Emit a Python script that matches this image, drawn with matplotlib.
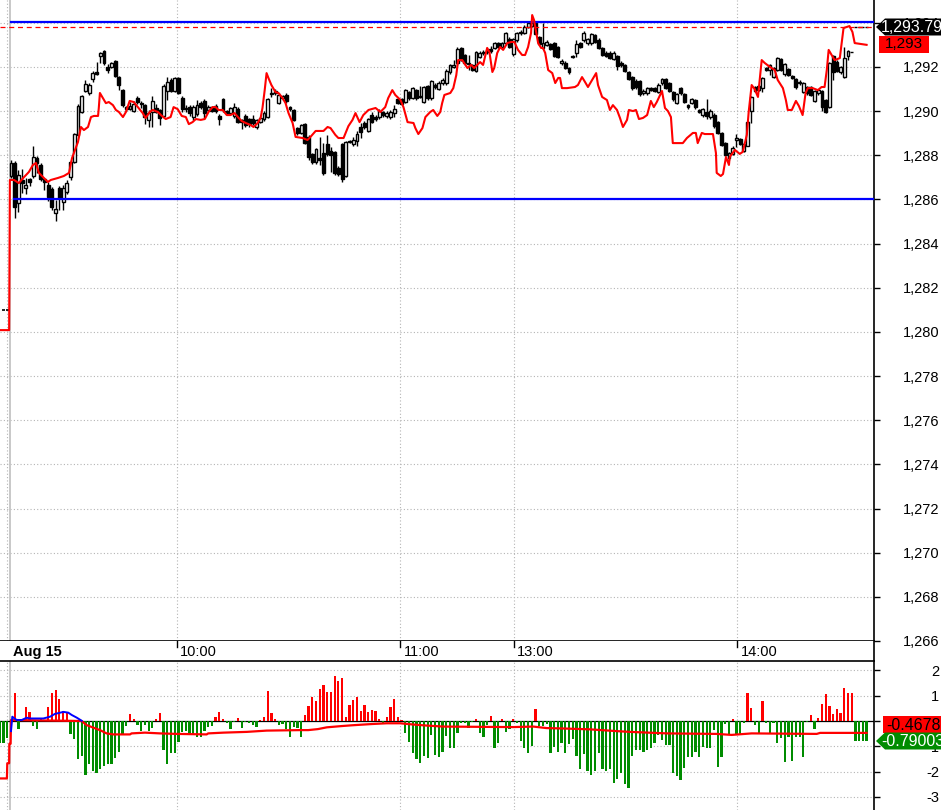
import numpy as np
import matplotlib
matplotlib.use("Agg")
import matplotlib.pyplot as plt
from matplotlib.patches import Polygon, Rectangle

plt.rcParams['font.family'] = ['Liberation Sans', 'DejaVu Sans']

# ---- price candles (1-min bars, Aug 15) ----
opens = [
    1287.06, 1287.65, 1285.84, 1286.88, 1286.51, 1286.92, 1287.06, 1287.87, 1287.56, 1286.92,
    1286.65, 1286.47, 1285.38, 1286.51, 1285.88, 1286.33, 1287.01, 1287.69, 1288.92, 1289.96,
    1290.91, 1290.82, 1291.45, 1291.77, 1292.49, 1292.72, 1292.00, 1292.00, 1292.27, 1291.54,
    1290.95, 1290.18, 1290.09, 1290.00, 1290.59, 1290.36, 1290.27, 1289.60, 1289.96, 1290.14,
    1290.05, 1289.78, 1290.91, 1291.41, 1290.91, 1291.50, 1290.59, 1290.09, 1290.18, 1289.73,
    1289.87, 1290.36, 1290.45, 1290.05, 1290.18, 1290.23, 1289.78, 1290.54, 1290.00, 1289.91,
    1289.78, 1290.10, 1289.51, 1289.78, 1289.64, 1289.64, 1289.28, 1289.51, 1289.64, 1289.73,
    1290.77, 1290.82, 1290.36, 1290.59, 1290.73, 1290.18, 1290.05, 1289.23, 1289.00, 1289.41,
    1288.83, 1288.06, 1287.69, 1287.87, 1288.10, 1288.51, 1288.19, 1288.15, 1287.42, 1288.51,
    1287.06, 1288.60, 1288.51, 1288.65, 1289.28, 1289.46, 1289.10, 1289.82, 1289.73, 1289.73,
    1289.96, 1289.78, 1289.73, 1289.91, 1290.54, 1290.54, 1290.41, 1290.86, 1290.59, 1290.95,
    1290.68, 1290.41, 1291.14, 1290.59, 1291.18, 1291.00, 1291.27, 1291.27, 1291.77, 1292.00,
    1292.18, 1292.86, 1292.54, 1292.18, 1292.09, 1291.82, 1292.45, 1292.68, 1292.77, 1292.81,
    1292.86, 1293.08, 1292.90, 1293.08, 1293.26, 1292.58, 1293.22, 1293.54, 1293.54, 1293.81,
    1293.85, 1293.99, 1293.35, 1292.86, 1293.00, 1293.04, 1293.08, 1292.90, 1292.18, 1292.18,
    1291.95, 1292.49, 1292.63, 1293.08, 1293.22, 1293.08, 1293.08, 1293.45, 1293.22, 1292.86,
    1292.63, 1292.63, 1292.36, 1292.49, 1292.18, 1292.09, 1291.77, 1291.54, 1291.36, 1291.36,
    1290.82, 1290.82, 1291.05, 1291.05, 1290.86, 1291.27, 1291.45, 1291.27, 1290.86, 1290.36,
    1291.05, 1290.77, 1290.27, 1290.36, 1290.50, 1290.05, 1289.82, 1289.96, 1289.73, 1289.82,
    1289.51, 1289.00, 1288.55, 1287.87, 1288.06, 1288.69, 1288.74, 1288.19, 1288.42, 1290.00,
    1291.09, 1290.95, 1291.05, 1291.95, 1291.86, 1291.54, 1291.86, 1292.36, 1291.68, 1291.90,
    1291.59, 1291.45, 1291.32, 1290.86, 1291.09, 1291.09, 1290.45, 1290.82, 1290.91, 1290.50,
    1290.18, 1292.49, 1292.22, 1291.77, 1291.54, 1292.49, 1292.68,
    1293.79, 1293.79, 1293.79, 1293.79]
highs = [
    1287.78, 1287.74, 1287.33, 1287.38, 1286.97, 1286.97, 1288.42, 1287.96, 1287.65, 1286.97,
    1286.79, 1286.56, 1285.97, 1286.60, 1286.65, 1286.88, 1287.78, 1289.00, 1290.30, 1290.75,
    1291.41, 1291.25, 1291.80, 1292.22, 1292.68, 1292.77, 1292.13, 1292.22, 1292.30, 1291.60,
    1291.00, 1290.25, 1290.41, 1290.45, 1290.70, 1290.45, 1290.32, 1290.05, 1290.68, 1290.32,
    1290.10, 1291.22, 1291.54, 1291.50, 1291.56, 1291.56, 1290.68, 1290.27, 1290.27, 1290.27,
    1290.50, 1290.45, 1290.54, 1290.27, 1290.25, 1290.30, 1289.85, 1290.60, 1290.05, 1290.20,
    1290.36, 1290.20, 1289.65, 1289.85, 1289.70, 1289.80, 1289.65, 1289.75, 1290.00, 1290.60,
    1291.05, 1291.00, 1290.82, 1290.75, 1290.82, 1290.25, 1290.10, 1289.30, 1289.41, 1289.45,
    1288.90, 1288.10, 1288.35, 1288.83, 1288.55, 1288.92, 1288.37, 1288.20, 1287.50, 1288.55,
    1288.65, 1288.70, 1288.83, 1289.10, 1289.46, 1289.55, 1289.70, 1289.96, 1289.80, 1290.10,
    1290.00, 1290.00, 1290.05, 1290.27, 1290.60, 1290.60, 1291.00, 1290.91, 1291.10, 1291.00,
    1291.14, 1291.14, 1291.20, 1291.41, 1291.25, 1291.35, 1291.50, 1291.90, 1292.15, 1292.31,
    1292.90, 1292.90, 1292.60, 1292.54, 1292.15, 1292.72, 1292.70, 1292.75, 1292.85, 1292.95,
    1293.15, 1293.15, 1293.15, 1293.60, 1293.35, 1293.30, 1293.60, 1293.65, 1293.90, 1294.05,
    1294.05, 1294.05, 1293.40, 1293.99, 1293.20, 1293.10, 1293.15, 1292.95, 1292.35, 1292.25,
    1292.00, 1292.55, 1293.22, 1293.15, 1293.63, 1293.30, 1293.55, 1293.50, 1293.30, 1292.90,
    1292.70, 1292.70, 1292.70, 1292.55, 1292.25, 1292.15, 1291.82, 1291.60, 1291.45, 1291.41,
    1291.00, 1291.10, 1291.10, 1291.10, 1291.25, 1291.50, 1291.50, 1291.32, 1290.91, 1290.82,
    1291.10, 1290.82, 1290.32, 1290.60, 1290.55, 1290.10, 1290.15, 1290.54, 1290.10, 1289.90,
    1289.55, 1289.05, 1288.60, 1288.15, 1288.40, 1288.96, 1288.80, 1288.55, 1289.55, 1290.70,
    1291.15, 1291.20, 1291.55, 1292.00, 1292.15, 1292.00, 1292.45, 1292.40, 1292.20, 1291.95,
    1291.65, 1291.50, 1291.40, 1291.32, 1291.15, 1291.15, 1290.95, 1291.00, 1290.95, 1290.55,
    1292.22, 1292.55, 1292.30, 1292.05, 1292.90, 1292.77, 1292.68,
    1293.79, 1293.79, 1293.79, 1293.79]
lows = [
    1286.97, 1285.16, 1285.43, 1286.29, 1286.24, 1286.60, 1286.97, 1287.20, 1286.83, 1286.42,
    1285.93, 1285.52, 1285.02, 1285.52, 1285.52, 1286.24, 1286.88, 1287.65, 1288.90, 1289.90,
    1290.85, 1290.75, 1291.32, 1291.63, 1292.18, 1292.10, 1291.72, 1291.95, 1291.55, 1290.95,
    1290.20, 1290.00, 1290.05, 1289.95, 1290.30, 1290.14, 1289.41, 1289.28, 1289.28, 1289.91,
    1289.37, 1289.69, 1290.50, 1290.86, 1290.86, 1290.78, 1289.96, 1289.96, 1289.78, 1289.60,
    1289.78, 1290.10, 1289.69, 1290.00, 1289.96, 1289.92, 1289.37, 1289.96, 1289.82, 1289.82,
    1289.69, 1289.45, 1289.20, 1289.30, 1289.28, 1289.37, 1289.20, 1289.45, 1289.55, 1289.70,
    1290.64, 1290.75, 1290.30, 1290.50, 1290.36, 1290.00, 1289.55, 1288.90, 1288.95, 1288.50,
    1287.78, 1287.60, 1287.60, 1287.56, 1287.11, 1287.96, 1287.24, 1287.10, 1287.06, 1286.79,
    1287.00, 1288.55, 1288.42, 1288.42, 1288.78, 1289.20, 1289.05, 1289.45, 1289.55, 1289.65,
    1289.75, 1289.70, 1289.65, 1289.73, 1290.30, 1290.27, 1290.36, 1290.50, 1290.55, 1290.50,
    1290.59, 1290.36, 1290.50, 1290.50, 1291.00, 1290.95, 1291.20, 1291.20, 1291.70, 1291.95,
    1292.10, 1292.25, 1292.10, 1291.86, 1291.80, 1291.77, 1292.40, 1292.55, 1292.60, 1292.63,
    1292.80, 1292.85, 1292.85, 1293.00, 1292.85, 1292.50, 1293.15, 1293.45, 1293.50, 1293.75,
    1293.80, 1293.45, 1293.00, 1292.80, 1292.95, 1292.75, 1292.45, 1292.40, 1292.10, 1291.90,
    1291.70, 1292.40, 1292.45, 1292.85, 1293.15, 1293.00, 1293.00, 1293.10, 1292.80, 1292.50,
    1292.45, 1292.35, 1292.30, 1291.86, 1292.00, 1291.75, 1291.40, 1290.95, 1291.00, 1290.70,
    1290.75, 1290.75, 1290.90, 1290.85, 1290.80, 1291.20, 1291.00, 1290.85, 1290.45, 1290.30,
    1290.75, 1290.36, 1290.10, 1290.30, 1290.10, 1289.90, 1289.75, 1289.64, 1289.65, 1289.25,
    1288.95, 1288.40, 1287.95, 1287.80, 1288.00, 1288.37, 1288.45, 1288.15, 1288.40, 1289.46,
    1290.85, 1290.90, 1290.86, 1291.80, 1291.63, 1291.50, 1291.80, 1291.80, 1291.60, 1291.59,
    1291.45, 1291.00, 1291.20, 1290.80, 1290.75, 1290.68, 1290.40, 1290.75, 1290.00, 1289.90,
    1290.14, 1291.41, 1291.75, 1291.70, 1291.50, 1292.31, 1292.68,
    1293.79, 1293.79, 1293.79, 1293.79]
closes = [
    1287.65, 1285.66, 1287.11, 1286.74, 1286.65, 1286.79, 1287.92, 1287.65, 1286.92, 1286.79,
    1286.11, 1285.66, 1285.56, 1286.06, 1286.51, 1286.74, 1287.69, 1288.96, 1290.23, 1290.68,
    1291.23, 1291.18, 1291.72, 1291.68, 1292.63, 1292.18, 1291.86, 1292.18, 1291.59, 1291.18,
    1290.27, 1290.09, 1290.23, 1290.32, 1290.41, 1290.32, 1289.73, 1289.91, 1290.45, 1289.96,
    1289.69, 1291.13, 1291.32, 1290.91, 1291.50, 1290.82, 1290.09, 1290.14, 1289.91, 1290.18,
    1290.27, 1290.18, 1289.91, 1290.18, 1290.00, 1290.00, 1289.64, 1290.05, 1289.91, 1290.14,
    1290.18, 1289.51, 1289.60, 1289.37, 1289.41, 1289.46, 1289.60, 1289.69, 1289.91, 1290.54,
    1290.82, 1290.91, 1290.73, 1290.68, 1290.45, 1290.09, 1289.60, 1289.00, 1289.37, 1288.55,
    1287.92, 1287.69, 1288.28, 1287.78, 1287.20, 1288.06, 1288.01, 1287.20, 1287.15, 1286.92,
    1288.60, 1288.65, 1288.69, 1288.96, 1289.05, 1289.28, 1289.64, 1289.51, 1289.64, 1290.00,
    1289.82, 1289.91, 1289.96, 1290.09, 1290.36, 1290.32, 1290.95, 1290.59, 1291.05, 1290.59,
    1290.64, 1291.09, 1290.59, 1291.36, 1291.09, 1291.27, 1291.41, 1291.82, 1292.09, 1292.09,
    1292.81, 1292.31, 1292.18, 1292.13, 1291.86, 1292.68, 1292.63, 1292.63, 1292.68, 1292.72,
    1293.08, 1292.90, 1293.08, 1293.54, 1292.90, 1293.26, 1293.54, 1293.58, 1293.81, 1293.99,
    1293.99, 1293.49, 1293.04, 1293.08, 1293.13, 1292.81, 1292.49, 1292.45, 1292.27, 1291.95,
    1291.77, 1292.45, 1293.04, 1292.90, 1293.54, 1293.26, 1293.49, 1293.13, 1292.86, 1292.54,
    1292.49, 1292.40, 1292.63, 1292.04, 1292.09, 1291.82, 1291.45, 1291.04, 1291.09, 1290.77,
    1290.91, 1291.05, 1290.95, 1290.91, 1291.18, 1291.45, 1291.05, 1290.91, 1290.54, 1290.77,
    1290.82, 1290.41, 1290.18, 1290.54, 1290.18, 1289.96, 1290.09, 1289.78, 1290.00, 1289.32,
    1289.00, 1288.46, 1288.01, 1288.10, 1288.33, 1288.78, 1288.51, 1288.51, 1289.51, 1290.64,
    1290.91, 1291.14, 1291.50, 1291.86, 1292.09, 1291.95, 1292.40, 1291.86, 1292.13, 1291.63,
    1291.50, 1291.09, 1291.27, 1291.27, 1290.82, 1290.73, 1290.91, 1290.95, 1290.18, 1289.96,
    1292.18, 1291.77, 1291.82, 1292.00, 1292.40, 1292.72, 1292.68,
    1293.79, 1293.79, 1293.79, 1293.79]

# previous session's last bars (left edge)
prev_idx = [-2, -1]
prev_close = [1280.99, 1280.99]

# ---- red comparison line (main panel), vertices (bar index, price) ----
red_x = [-3.0, -0.5, -0.3, 0.8, 2.1, 3.5, 4.8, 5.9, 6.7, 7.5, 8.6, 9.9, 10.7, 12.6, 14.2, 15.6,
         16.4, 17.2, 18.0, 18.8, 19.6, 20.7, 21.5, 22.3, 23.4, 23.6, 23.9, 24.7, 25.5, 26.3,
         27.4, 28.2, 29.0, 30.1, 30.9, 31.9, 33.0, 34.1, 35.4, 36.2, 37.3, 38.1, 39.5, 40.3,
         41.6, 42.9, 43.7, 44.8, 45.9, 47.0, 47.8, 48.8, 49.7, 51.0, 52.1, 53.1, 54.2, 55.0,
         55.8, 56.9, 58.0, 59.0, 60.1, 61.2, 62.0, 63.1, 64.4, 65.2, 66.3, 67.1, 67.6, 68.2,
         68.7, 69.2, 70.0, 71.1, 71.9, 73.0, 73.8, 74.6, 75.7, 76.5, 78.4, 79.7, 80.5, 81.9,
         84.0, 85.1, 85.9, 87.2, 88.0, 89.4, 90.7, 91.8, 92.6, 93.7, 94.7, 96.1, 98.0, 99.3,
         100.6, 101.4, 102.5, 103.3, 104.7, 105.5, 106.6, 108.2, 108.7, 109.5, 110.6, 111.4,
         112.7, 113.5, 114.6, 115.4, 115.9, 116.5, 118.1, 118.9, 119.7, 120.2, 121.3, 122.7,
         123.7, 124.5, 126.1, 126.9, 128.0, 128.6, 129.4, 129.9, 130.7, 131.5, 132.3, 133.4,
         134.5, 135.3, 136.3, 137.4, 138.2, 139.0, 139.8, 140.1, 140.6, 141.2, 141.7, 142.5,
         143.0, 143.6, 144.4, 145.5, 146.3, 147.1, 147.6, 148.1, 149.5, 151.6, 152.4, 153.5,
         154.3, 155.1, 156.2, 157.3, 157.8, 158.9, 160.2, 161.0, 161.8, 162.9, 163.7, 164.5,
         165.6, 166.1, 167.2, 168.0, 168.8, 169.9, 171.0, 172.0, 172.8, 173.6, 175.0, 175.8,
         176.6, 177.4, 177.9, 180.6, 181.7, 183.3, 184.1, 184.6, 185.7, 186.5, 188.7, 189.5,
         189.7, 190.8, 191.4, 192.2, 193.0, 193.2, 194.6, 195.9, 196.7, 197.8, 198.3, 199.1,
         199.9, 200.8, 201.8, 202.6, 204.0, 205.3, 206.1, 207.5, 208.3, 208.8, 209.9, 211.0,
         211.8, 212.8, 213.6, 214.2, 215.5, 216.9, 217.9, 218.7, 219.3, 219.8, 220.6, 221.4,
         222.8, 223.3, 223.8, 225.4, 226.2, 226.8, 230.0]
red_y = [1280.08, 1280.08, 1286.88, 1286.88, 1286.74, 1287.01, 1287.24, 1287.56, 1287.65, 1287.20,
         1287.01, 1286.79, 1286.88, 1286.97, 1287.06, 1287.20, 1287.87, 1288.24, 1288.60, 1289.28,
         1289.14, 1289.28, 1289.73, 1289.78, 1289.78, 1290.14, 1290.82, 1290.59, 1290.36, 1290.41,
         1290.27, 1290.05, 1289.96, 1289.73, 1289.96, 1290.46, 1290.41, 1290.18, 1289.91, 1289.69,
         1289.96, 1290.05, 1289.96, 1289.82, 1289.64, 1289.73, 1290.18, 1290.09, 1289.78, 1289.73,
         1289.41, 1289.50, 1289.64, 1289.60, 1289.64, 1289.96, 1290.18, 1290.18, 1290.05, 1290.05,
         1289.82, 1289.82, 1289.91, 1289.69, 1289.55, 1289.46, 1289.37, 1289.28, 1289.46, 1289.69,
         1290.14, 1290.95, 1291.72, 1291.50, 1291.18, 1290.86, 1290.82, 1290.59, 1290.36, 1289.91,
         1289.46, 1288.83, 1288.78, 1288.69, 1288.83, 1289.10, 1289.10, 1289.28, 1289.23, 1288.92,
         1288.78, 1288.78, 1289.32, 1289.60, 1289.91, 1289.50, 1289.82, 1290.05, 1290.14, 1289.96,
         1290.18, 1290.59, 1290.95, 1290.73, 1290.50, 1290.18, 1289.50, 1289.46, 1289.23, 1288.96,
         1289.23, 1289.73, 1289.96, 1290.05, 1289.78, 1289.96, 1290.36, 1290.73, 1290.82, 1291.04,
         1291.63, 1292.31, 1292.31, 1291.95, 1292.09, 1291.95, 1292.22, 1292.09, 1292.86, 1292.68,
         1291.77, 1291.95, 1292.63, 1292.90, 1292.77, 1293.08, 1293.13, 1293.13, 1292.77, 1292.54,
         1292.54, 1292.90, 1293.54, 1294.35, 1294.12, 1293.54, 1293.08, 1292.86, 1292.86, 1292.63,
         1291.86, 1291.72, 1291.27, 1291.50, 1291.50, 1291.04, 1291.04, 1291.09, 1291.18, 1291.54,
         1291.32, 1291.09, 1291.41, 1291.72, 1291.18, 1290.64, 1290.50, 1290.05, 1290.27, 1290.05,
         1289.69, 1289.28, 1289.60, 1290.05, 1290.00, 1290.05, 1289.64, 1289.69, 1289.82, 1290.46,
         1290.18, 1290.41, 1290.91, 1290.14, 1290.00, 1289.73, 1288.55, 1288.55, 1288.78, 1289.01,
         1289.01, 1288.55, 1289.01, 1288.96, 1288.96, 1288.10, 1287.20, 1287.06, 1287.15, 1287.92,
         1287.56, 1287.92, 1288.24, 1288.06, 1288.15, 1288.92, 1289.96, 1291.18, 1291.00, 1290.64,
         1292.31, 1292.18, 1292.00, 1291.86, 1291.41, 1291.04, 1290.50, 1290.05, 1290.05, 1290.46,
         1290.23, 1289.82, 1290.82, 1291.04, 1291.04, 1290.95, 1291.09, 1291.09, 1291.86, 1292.77,
         1292.54, 1292.31, 1292.40, 1293.08, 1293.76, 1293.85, 1293.58, 1293.08, 1293.00]

band_top = 1294.03
band_bottom = 1286.00
last_price = 1293.79

# ---- lower panel: histogram and signal ----
hist_prev = [-0.87, -0.87, -0.68]   # bars -3..-1
hist = [
    -0.35, 1.12, -0.33, 0.09, 0.54, 0.36, -0.20, -0.33, 0.09, 0.05,
    0.54, 1.12, 1.23, 0.87, 0.38, 0.30, -0.51, -0.72, -1.49, -1.37,
    -2.13, -1.70, -1.96, -2.04, -1.90, -1.78, -1.70, -1.70, -1.45, -1.21,
    -0.55, -0.20, 0.28, 0.08, -0.16, -0.38, -0.16, -0.38, -0.29, 0.07,
    0.32, -1.15, -1.70, -1.25, -1.28, -0.82, -0.42, -0.38, -0.55, -0.55,
    -0.65, -0.62, -0.40, -0.22, -0.20, 0.16, 0.36, 0.08, -0.09, -0.33,
    -0.02, 0.12, -0.29, -0.02, -0.07, -0.17, -0.22, 0.02, 0.14, 1.19,
    0.30, 0.08, -0.17, -0.13, -0.33, -0.62, -0.22, -0.26, -0.65, 0.24,
    0.59, 0.96, 0.79, 1.26, 1.42, 1.16, 1.16, 1.78, 1.58, 1.70,
    0.17, 0.63, 0.83, 0.95, 0.40, 0.63, 0.34, 0.45, 0.41, 0.08,
    -0.07, 0.16, 0.54, 0.87, 0.16, 0.05, -0.46, -0.82, -1.25, -1.52,
    -1.67, -1.38, -1.45, -0.55, -1.34, -1.41, -1.24, -0.58, -1.08, -1.08,
    -0.49, -0.09, -0.09, -0.29, -0.05, 0.08, -0.46, -0.62, -0.14, 0.18,
    -1.08, -0.88, 0.08, -0.43, -0.33, 0.08, -0.09, -0.78, -1.08, -1.28,
    -0.97, 0.47, -0.20, -0.20, -0.12, -1.25, -1.01, -1.24, -0.88, -1.28,
    -0.92, -0.72, -1.37, -1.91, -1.32, -1.96, -2.15, -1.96, -1.25, -1.88,
    -1.98, -1.91, -2.44, -2.31, -2.07,
    -2.50, -2.64, -1.37, -1.15, -1.15, -1.24, -1.15, -1.05, -0.86, -0.55,
    -0.75, -0.95, -0.95, -2.07, -2.16, -2.33, -1.84, -1.41, -1.44, -1.21,
    -1.41, -1.01, -1.05, -1.08, -0.36, -1.80, -1.44, -0.10, -0.55, 0.07,
    -0.55, -0.55, -0.09, 1.12, 0.50, -0.16, -0.49, 0.80, -0.09, -0.49,
    -0.09, -0.88, -0.69, -1.61, -0.65, -1.57, -0.62, -0.62, -1.44, -0.05,
    0.24, -0.33, 0.12, 0.67, 1.07, 0.59, 0.28, 0.46, 0.30, 1.29,
    1.12, 1.12, -0.79, -0.79, -0.79, -0.79]

sig_x = [-3.0, -1.1, -1.0, -0.5, -0.45, -0.1, 0.0, 19.0, 20.3, 22.1, 23.9, 25.7, 27.5, 32.0,
         32.4, 36.0, 40.1, 44.5, 52.6, 53.0, 57.1, 63.4, 68.7, 77.7, 79.9, 82.5, 84.9, 88.9,
         91.6, 97.0, 101.0, 104.6, 108.2, 111.7, 116.2, 135.0, 140.4, 144.0, 149.4, 155.6,
         162.8, 166.4, 176.3, 189.7, 193.7, 199.1, 216.6, 217.5, 225.1, 230.0]
sig_y = [-2.27, -2.27, -1.67, -1.67, -0.90, -0.90, 0.04, 0.00, -0.16, -0.26, -0.36, -0.49,
         -0.53, -0.53, -0.49, -0.46, -0.49, -0.51, -0.53, -0.49, -0.46, -0.43, -0.38, -0.36,
         -0.36, -0.32, -0.25, -0.20, -0.17, -0.12, -0.09, -0.09, -0.14, -0.18, -0.22, -0.24,
         -0.22, -0.28, -0.30, -0.33, -0.40, -0.43, -0.49, -0.51, -0.55, -0.49, -0.51, -0.47,
         -0.47, -0.47]
blue_x = [0.0, 0.35, 1.5, 2.9, 4.2, 5.1, 8.7, 10.5, 11.8, 14.1, 15.4, 16.3, 17.7, 19.0]
blue_y = [-0.40, 0.17, 0.04, 0.04, 0.13, 0.10, 0.10, 0.17, 0.28, 0.36, 0.33, 0.24, 0.13, 0.01]

tick_pos = [44.6, 104.6, 135.2, 195.2]
tick_lab = ['10:00', '11:00', '13:00', '14:00']
day_label = 'Aug 15'
sig_last = -0.46785
hist_last = -0.79003

# ---------------------------------------------------------------
W, H = 941, 810
PX = 3.72                 # pixels per bar
X0 = 11                   # pixel of bar 0
XR = 874                  # right axis line
xlim = (-X0 / PX, (XR - X0) / PX)
RED = '#ff0000'
BLUE = '#0000ff'
GREEN = '#008c00'
GRID = '#b4b4b4'
dot = (0, (1, 2))

fig = plt.figure(figsize=(W / 100, H / 100), dpi=100)
ax = fig.add_axes([0, 1 - 641 / H, XR / W, 641 / H])
axb = fig.add_axes([0, 1 - 661 / H, XR / W, 20 / H])
ax2 = fig.add_axes([0, 0, XR / W, 149 / H])

for a in (ax, axb, ax2):
    a.set_xlim(*xlim)
    for s in ('left', 'top'):
        a.spines[s].set_visible(False)
    a.spines['right'].set_linewidth(1.2)
    a.spines['bottom'].set_linewidth(1.2)
    a.set_xticks([])

# ---- main panel ----
ymin = 1266
ymax = ymin + 641 / 22.08
ax.set_ylim(ymin, ymax)
ax.yaxis.tick_right()
yt = np.arange(1266, 1295, 2)
ax.set_yticks(yt)
ax.set_yticklabels([f'{v:,.0f}' for v in yt])
ax.tick_params(axis='y', direction='out', length=4, width=1, pad=43, labelsize=10.5)
plt.setp(ax.get_yticklabels(), ha='right')
for v in yt:
    ax.axhline(v, color=GRID, lw=0.8, ls=dot, zorder=0)
for p in tick_pos + [-1.0]:
    ax.axvline(p, color=GRID, lw=0.8, ls=dot, zorder=0)
ax.axvline(-0.3, color='#c4c4c4', lw=1.3, zorder=0)

idx = np.arange(len(opens))
o = np.array(opens)
c = np.array(closes)
ax.vlines(idx, lows, highs, color='black', lw=1.0, zorder=2)
ax.bar(idx, np.abs(c - o), bottom=np.minimum(o, c), width=0.78,
       color=np.where(c >= o, 'white', 'black'), edgecolor='black', linewidth=1.0, zorder=3)
ax.hlines(prev_close, np.array(prev_idx) - 0.4, np.array(prev_idx) + 0.4, color='black', lw=1.2, zorder=3)

ax.axhline(last_price, color=RED, lw=0.9, ls=(0, (4, 3)), zorder=4)
ax.plot([0, xlim[1]], [band_top, band_top], color=BLUE, lw=1.6, zorder=5)
ax.plot([0.8, xlim[1]], [band_bottom, band_bottom], color=BLUE, lw=1.6, zorder=5)
ax.plot(red_x, red_y, color=RED, lw=1.5, zorder=6)

# ---- time band ----
axb.set_ylim(0, 1)
axb.set_yticks([])
axb.spines['bottom'].set_visible(False)
for p, lab in zip(tick_pos, tick_lab):
    axb.plot([p, p], [1, 0.72], color='black', lw=1)
    axb.text(p + 0.9, 0.45, lab, fontsize=10.5, ha='left', va='center')
axb.text(0.5, 0.45, day_label, fontsize=10.5, fontweight='bold', ha='left', va='center')

# ---- lower panel ----
vtop = 60 / 25.3
vbot = -89 / 25.3
ax2.set_ylim(vbot, vtop)
ax2.spines['top'].set_visible(True)
ax2.spines['top'].set_linewidth(1.2)
ax2.spines['bottom'].set_visible(False)
ax2.yaxis.tick_right()
yt2 = np.arange(-3, 3)
ax2.set_yticks(yt2)
ax2.set_yticklabels([str(v) for v in yt2])
ax2.tick_params(axis='y', direction='out', length=4, width=1, pad=43, labelsize=10.5)
plt.setp(ax2.get_yticklabels(), ha='right')
for v in yt2:
    if v != 0:
        ax2.axhline(v, color=GRID, lw=0.8, ls=dot, zorder=0)
for p in tick_pos + [-1.0]:
    ax2.axvline(p, color=GRID, lw=0.8, ls=dot, zorder=0)
ax2.axvline(-0.3, color='#c4c4c4', lw=1.3, zorder=0)
ax2.axhline(0, color='black', lw=0.9, zorder=1)

hx = np.arange(-len(hist_prev), len(hist))
hv = np.array(hist_prev + hist)
ax2.bar(hx, hv, width=0.6, color=np.where(hv > 0, RED, GREEN), zorder=2)
ax2.plot(sig_x, sig_y, color=RED, lw=1.6, zorder=3)
ax2.plot(blue_x, blue_y, color=BLUE, lw=1.4, zorder=4)

# ---- value labels on the right axis ----
ov = fig.add_axes([0, 0, 1, 1])
ov.set_xlim(0, W)
ov.set_ylim(H, 0)
ov.axis('off')
ov.patch.set_alpha(0)


def flag(y, text, face, tcolor, x0, arrow):
    if arrow:
        pts = [(x0, y), (x0 + 9, y - 8.5), (W, y - 8.5), (W, y + 8.5), (x0 + 9, y + 8.5)]
    else:
        pts = [(x0, y - 8.5), (W, y - 8.5), (W, y + 8.5), (x0, y + 8.5)]
    ov.add_patch(Polygon(pts, closed=True, facecolor=face, edgecolor='none', zorder=5))
    tx = x0 + (5 if arrow else 3)
    ov.text(tx, y + 0.5, text, color=tcolor, fontsize=11.5, ha='left', va='center',
            zorder=6, clip_on=True)


flag(27, f'{last_price:,.2f}', 'black', 'white', 876, True)
ov.add_patch(Rectangle((879, 36), 50, 17, facecolor=RED, edgecolor='none', zorder=5))
ov.text(904, 44.5, f'{red_y[-1]:,.0f}', color='black', fontsize=11, ha='center', va='center', zorder=6)
flag(724.5, f'{sig_last:.5f}', RED, 'black', 883, False)
flag(741, f'{hist_last:.5f}', GREEN, 'white', 876, True)

fig.savefig('out.png', dpi=100)
